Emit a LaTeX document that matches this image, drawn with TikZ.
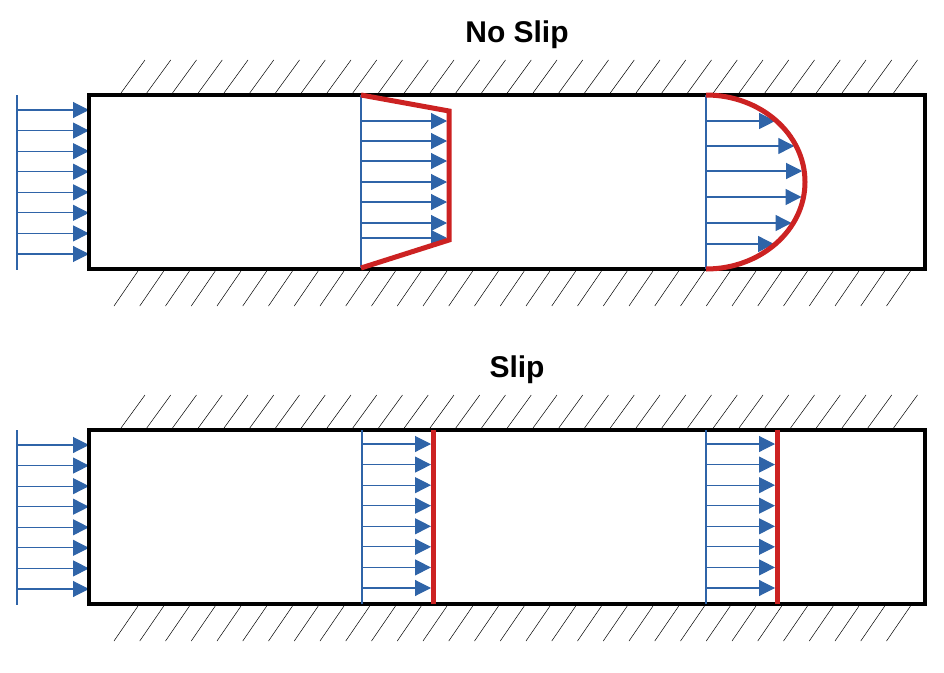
\documentclass[tikz,border=0pt]{standalone}
\usepackage{fontspec}
\setmainfont{Liberation Sans}
\usetikzlibrary{arrows.meta}
\definecolor{flowblue}{RGB}{47,100,168}
\definecolor{profred}{RGB}{204,34,34}

\begin{document}
\begin{tikzpicture}[x=1pt, y=-1pt,
      wall/.style={draw, line width=4pt},
      hatch/.style={line width=0.5pt},
      base/.style={flowblue, line width=1.5pt},
      vel/.style={flowblue, line width=1.1pt, -{Triangle[length=16pt, width=16pt]}},
      profile/.style={profred, line width=5pt},
      title/.style={font=\bfseries\fontsize{30}{36}\selectfont}
    ]
    \useasboundingbox (0,0) rectangle (944,672);

    \node[title] (noslip) at (517,35) {No Slip};
    \node[title] (slip) at (517,370) {Slip};

    % walls, hatching and inlet for both channels
    \foreach \dy in {0,335} {
      \begin{scope}[shift={(0,\dy)}]
        \foreach \i in {0,...,30} {
          \draw[hatch] ({121+25.75*\i},93) -- ++(24,-33);
          \draw[hatch] ({138+25.75*\i},271) -- ++(-24,35);
        }
        \draw[base] (17,95) -- (17,270);
        \foreach \k in {0,...,7}
          \draw[vel] (17,{110+20.57*\k}) -- (89,{110+20.57*\k});
        \draw[wall] (89,95) rectangle (925,269);
      \end{scope}
    }

    % no slip: developing profile
    \draw[base] (361,95) -- (361,268);
    \foreach \y in {121,141,161,182,202,223,238}
      \draw[vel] (361,\y) -- (447,\y);
    \draw[profile] (361,95) -- (449,111) -- (449,240) -- (361,268);

    % no slip: parabolic profile
    \draw[base] (706,95) -- (706,269);
    \foreach \y in {121,146,171,197,223,244}
      \draw[vel] (706,\y) -- ({706+97*sqrt(1-((\y-182)/87)^2)},\y);
    \draw[profile] (706,95) arc[start angle=-90, end angle=90, x radius=99, y radius=87];

    % slip: plug profiles
    \foreach \xa/\xb in {362/433, 706/777} {
      \draw[base] (\xa,430) -- (\xa,604);
      \foreach \k in {0,...,7}
        \draw[vel] (\xa,{444+20.57*\k}) -- ({\xb-2},{444+20.57*\k});
      \draw[profile] (\xb,430) -- (\xb,604);
    }
  \end{tikzpicture}
\end{document}
